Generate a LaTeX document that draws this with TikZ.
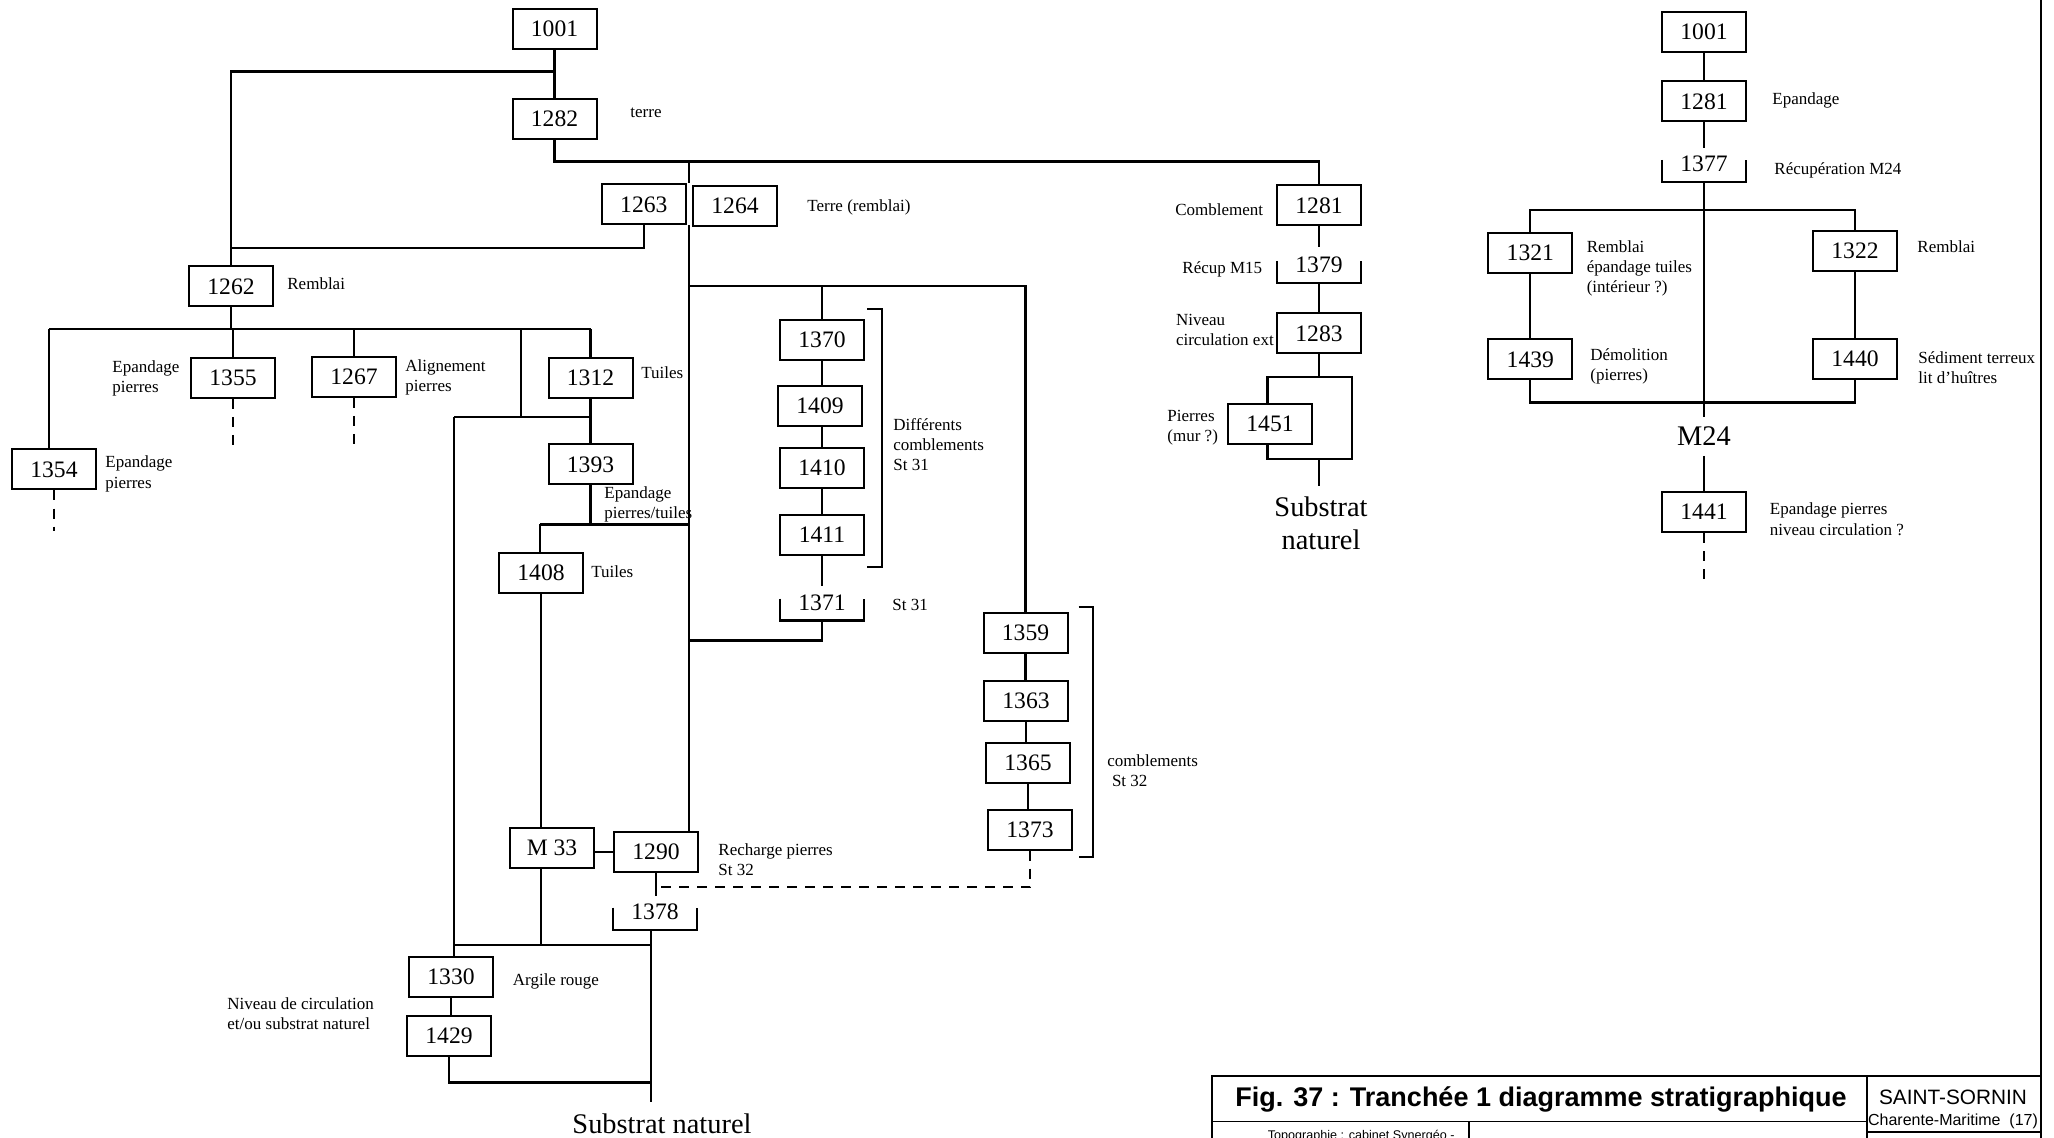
\documentclass[tikz,border=0pt]{standalone}
\usepackage{fontspec}
\setmainfont{Liberation Serif}
\setsansfont{Liberation Sans}
\usetikzlibrary{calc}
\begin{document}
\begin{tikzpicture}[x=0.5pt,y=-0.5pt,
 box/.style={draw,line width=1pt,minimum width=42pt,minimum height=20pt,inner sep=0pt,font=\fontsize{11.8}{14}\selectfont},
 num/.style={inner sep=0pt,font=\fontsize{11.8}{14}\selectfont},
 ln/.style={line width=1.15pt},
 dsh/.style={line width=1.15pt,dash pattern=on 5pt off 4pt},
 lab/.style={anchor=base west,align=left,inner sep=0pt,font=\fontsize{8.5}{10}\selectfont},
 labr/.style={anchor=base east,align=right,inner sep=0pt,font=\fontsize{8.5}{10}\selectfont},
 big/.style={inner sep=0pt,align=center,font=\fontsize{14.2}{16.5}\selectfont},
 frame/.style={line width=0.8pt},
 brk/.style={line width=1.15pt},
]
\useasboundingbox (0,0) rectangle (2054,1138);

% ---------------- left diagram boxes ----------------
\node[box] (a1001) at (554.5,29) {1001};
\node[box] (a1282) at (554.5,119) {1282};
\node[box] (a1263) at (643.8,204.4) {1263};
\node[box] (a1264) at (735,205.7) {1264};
\node[box] (a1262) at (231,286.5) {1262};
\node[box] (a1354) at (54,469.5) {1354};
\node[box] (a1355) at (233,378) {1355};
\node[box] (a1267) at (354,377) {1267};
\node[box] (a1312) at (590.5,378) {1312};
\node[box] (a1393) at (590.5,464.5) {1393};
\node[box] (a1408) at (541,572.5) {1408};
\node[box] (aM33) at (552,848) {M 33};
\node[box] (a1290) at (656,852) {1290};
\node[box] (a1330) at (451,977) {1330};
\node[box] (a1429) at (449,1035.5) {1429};
\node[box] (a1370) at (822,340) {1370};
\node[box] (a1409) at (820,406) {1409};
\node[box] (a1410) at (822,468) {1410};
\node[box] (a1411) at (822,535) {1411};
\node[num] (a1371) at (822,602.5) {1371};
\node[box] (a1359) at (1025.5,633) {1359};
\node[box] (a1363) at (1026,700.5) {1363};
\node[box] (a1365) at (1028,763) {1365};
\node[box] (a1373) at (1030,829.5) {1373};
\node[box] (a1281) at (1319,205.5) {1281};
\node[num] (a1379) at (1319,265) {1379};
\node[box] (a1283) at (1319,333.5) {1283};
\node[box] (a1451) at (1270,424) {1451};
\node[num] (a1378) at (655,911.7) {1378};
\node[big] (subA) at (662,1124) {Substrat naturel};
\node[big] (subB) at (1321,523) {Substrat\\naturel};

% brackets under numbers
\foreach \n in {a1371,a1379,a1378}{
  \draw[brk] ([shift={(-42,-4)}]\n.center) -- ++(0,22) -- ++(84,0) -- ++(0,-22);
}
% right brackets of groups
\coordinate (g1t) at (867,309); \coordinate (g1b) at (882,567);
\draw[brk] (g1t) -- (g1t -| g1b) -- (g1b) -- (g1b -| g1t);
\coordinate (g2t) at (1078.6,607); \coordinate (g2b) at (1093,856.7);
\draw[brk] (g2t) -- (g2t -| g2b) -- (g2b) -- (g2b -| g2t);

% ---------------- left diagram connectors ----------------
\coordinate (jA) at (554.5,71.4);
\coordinate (yB) at (0,248);
\coordinate (m0) at (689,161.5);
\coordinate (m1) at (689,286);
\coordinate (m2) at (689,640.4);
\coordinate (h1) at (49,329);
\coordinate (h1r) at (590.5,329);
\coordinate (v1) at (521,329);
\coordinate (h2l) at (454,417);
\coordinate (h3) at (540,524.4);
\coordinate (h4) at (454,945);
\coordinate (h5) at (450,1082.6);
\coordinate (d1) at (655.7,887.3);
\coordinate (s1) at ($(a1378.center)+(-4,18)$);

\draw[ln] (a1001.south) -- (a1282.north);
\draw[ln] (jA) -| (a1262.north);
\draw[ln] (a1263.south) |- (a1262.north |- yB);
\draw[ln] (a1282.south) -- (a1282.south |- m0) -| (a1281.north);
\draw[ln] (m0) -- (m0 |- a1263.north);
\draw[ln] (m0 |- a1263.south) -- (m0 |- a1290.north);
\draw[ln] (m1) -| (a1359.north);
\draw[ln] (a1370.north |- m1) -- (a1370.north);
\draw[ln] (a1370.south) -- (a1370.south |- a1409.north);
\draw[ln] (a1409.south -| a1410.north) -- (a1410.north);
\draw[ln] (a1410.south) -- (a1411.north);
\draw[ln] (a1411.south) -- ($(a1371.north)+(0,-8)$);
\draw[ln] ($(a1371.center)+(0,18)$) |- (m2);
\draw[ln] (a1359.south) -- (a1359.south |- a1363.north);
\draw[ln] (a1363.south) -- (a1363.south |- a1365.north);
\draw[ln] (a1365.south) -- (a1365.south |- a1373.north);
\draw[dsh] (a1373.south) |- (d1);

\draw[ln] (a1262.south) -- (a1262.south |- h1);
\draw[ln] (h1) -- (h1r);
\draw[ln] (h1) -- (h1 |- a1354.north);
\draw[ln] (a1355.north |- h1) -- (a1355.north);
\draw[ln] (a1267.north |- h1) -- (a1267.north);
\draw[ln] (h1r) -- (a1312.north);
\draw[ln] (v1) -- (v1 |- h2l);
\draw[ln] (h2l) -- (a1312.south |- h2l);
\draw[ln] (a1312.south) -- (a1393.north);
\draw[ln] (h2l) -- (h2l |- a1330.north);
\draw[ln] (a1393.south) -- (a1393.south |- h3);
\draw[ln] (h3) -- (m0 |- h3);
\draw[ln] (h3) -- (h3 |- a1408.north);
\draw[ln] (a1408.south) -- (a1408.south |- aM33.north);
\draw[ln] (a1290.west) -- (a1290.west -| aM33.east);
\draw[ln] (aM33.south -| a1408.south) -- (a1408.south |- h4);
\draw[ln] (h4) -- (s1 |- h4);
\draw[ln] (a1290.south) -- ($(a1290.south |- a1378.north)+(0,-7)$);
\draw[ln] (s1) -- ($(s1 |- subA.north)+(0,-12)$);
\draw[ln] (a1330.south) -- (a1330.south |- a1429.north);
\draw[ln] (a1429.south) |- (s1 |- h5);

\draw[dsh] (a1354.south) -- ++(0,40);
\draw[dsh] (a1355.south) -- ++(0,48);
\draw[dsh] (a1267.south) -- ++(0,48);

% middle right column
\coordinate (r1) at (1267.5,377);
\coordinate (r2) at (1352,459);
\draw[ln] (a1281.south) -- ($(a1379.north)+(0,-10)$);
\draw[ln] ($(a1379.center)+(0,19)$) -- (a1283.north);
\draw[ln] (a1283.south) -- (a1283.south |- r1);
\draw[ln] (a1451.north -| r1) -- (r1) -- (r1 -| r2) -- (r2) -- (r2 -| r1) -- (a1451.south -| r1);
\draw[ln] (r2 -| a1283.south) -- ($(a1283.south |- subB.north)+(0,-10)$);

% ---------------- right diagram ----------------
\node[box] (c1001) at (1704,32) {1001};
\node[box] (c1281) at (1704,101.4) {1281};
\node[num] (c1377) at (1704,164) {1377};
\node[box] (c1321) at (1530.3,252.6) {1321};
\node[box] (c1322) at (1855,251) {1322};
\node[box] (c1439) at (1530.3,359.4) {1439};
\node[box] (c1440) at (1855,359) {1440};
\node[big] (cM24) at (1704,436) {M24};
\node[box] (c1441) at (1704,512) {1441};
\draw[brk] ([shift={(-42,-4)}]c1377.center) -- ++(0,22) -- ++(84,0) -- ++(0,-22);

\coordinate (t2) at (1704,210);
\coordinate (t3) at (1704,402.6);
\draw[ln] (c1001.south) -- (c1281.north);
\draw[ln] (c1281.south) -- ($(c1377.north)+(0,-8)$);
\draw[ln] ($(c1377.center)+(0,18)$) -- ($(cM24.north)+(0,-9)$);
\draw[ln] (c1321.north) |- (t2) -| (c1322.north);
\draw[ln] (c1321.south) -- (c1439.north);
\draw[ln] (c1322.south) -- (c1440.north);
\draw[ln] (c1439.south) |- (t3) -| (c1440.south);
\draw[ln] ($(cM24.south)+(0,10)$) -- (c1441.north);
\draw[dsh] (c1441.south) -- ++(0,48);

% ---------------- labels (base = baseline of last line) ----------------
\node[lab] at (630,118) {terre};
\node[lab] at (807,212) {Terre (remblai)};
\node[lab] at (287,290) {Remblai};
\node[lab] at (112,393) {Epandage\\pierres};
\node[lab] at (405,392) {Alignement\\pierres};
\node[lab] at (641,379) {Tuiles};
\node[lab] at (105,488) {Epandage\\pierres};
\node[lab] at (604,518) {Epandage\\pierres/tuiles};
\node[lab] at (591,577.6) {Tuiles};
\node[lab] at (893,471) {Différents\\comblements\\St 31};
\node[lab] at (892,610.7) {St 31};
\node[lab] at (1107,786.6) {comblements\\\hspace*{2.3pt}St 32};
\node[lab] at (718,875.8) {Recharge pierres\\St 32};
\node[lab] at (512.5,985) {Argile rouge};
\node[lab] at (227,1029.6) {Niveau de circulation\\et/ou substrat naturel};
\node[labr] at (1263.5,216) {Comblement};
\node[lab] at (1182,274) {Récup M15};
\node[lab] at (1175.6,346) {Niveau\\circulation ext};
\node[lab] at (1167,442) {Pierres\\(mur ?)};
\node[lab] at (1772,104.7) {Epandage};
\node[lab] at (1774,174.4) {Récupération M24};
\node[lab] at (1586.4,293) {Remblai\\épandage tuiles\\(intérieur ?)};
\node[lab] at (1917,252.8) {Remblai};
\node[lab] at (1590,381) {Démolition\\(pierres)};
\node[lab] at (1918,384) {Sédiment terreux\\lit d'huîtres};
\node[lab] at (1769.5,535) {Epandage pierres\\niveau circulation ?};

% ---------------- frame and title block ----------------
\coordinate (fr0) at (2041,0);
\coordinate (fr1) at (2041,1145);
\coordinate (tb0) at (1212,1076);
\coordinate (tb1) at (1867,1121.5);
\coordinate (tb2) at (1469,1145);
\coordinate (tb3) at (2041,1131.7);
\draw[line width=1.1pt] (fr0) -- (fr1);
\draw[frame] (tb0 |- fr1) -- (tb0) -- (tb0 -| fr0);
\draw[frame] (tb1 |- tb0) -- (tb1 |- fr1);
\draw[frame] (tb0 |- tb1) -- (tb1);
\draw[frame] (tb1 |- tb3) -- (tb3);
\draw[frame] (tb2 |- tb1) -- (tb2);
\node[inner sep=0pt,font=\sffamily\bfseries\fontsize{13.5}{16}\selectfont] (ttl) at (1541,1099) {Fig. 37 : Tranchée 1 diagramme stratigraphique};
\node[inner sep=0pt,font=\sffamily\fontsize{10.4}{12}\selectfont] (ss) at (1953,1097) {SAINT-SORNIN};
\node[inner sep=0pt,font=\sffamily\fontsize{8}{10}\selectfont] (cm) at (1953,1121) {Charente-Maritime\ \ (17)};
\node[inner sep=0pt,anchor=north east,font=\sffamily\fontsize{6.3}{8}\selectfont] (topo) at (1455,1129.5) {Topographie : cabinet Synergéo -};
\end{tikzpicture}
\end{document}
